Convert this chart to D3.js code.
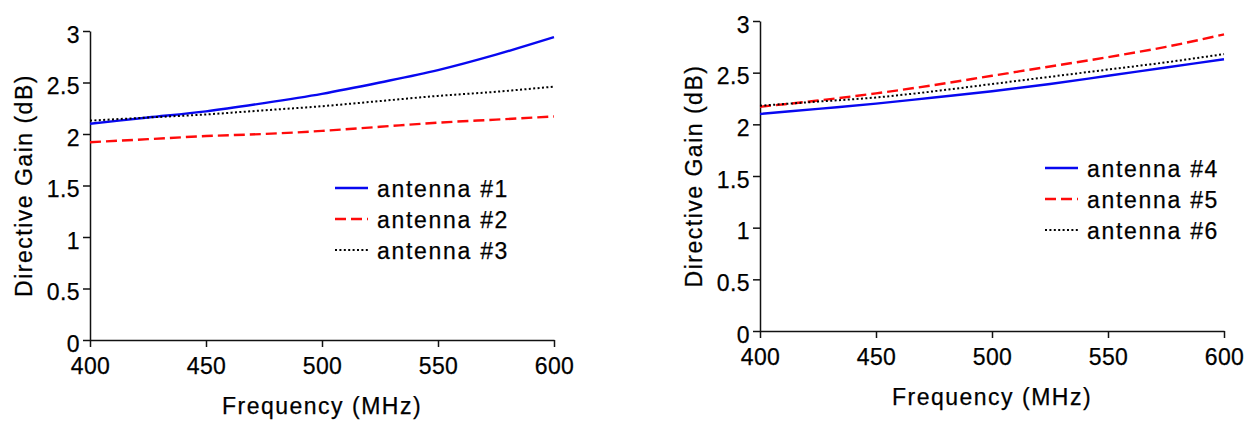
<!DOCTYPE html>
<html>
<head>
<meta charset="utf-8">
<script src="https://cdn.jsdelivr.net/npm/d3@7"></script>
<style>
    body { margin: 0; background: #fff; }
    svg text { font-family: "Liberation Sans", Arial, sans-serif; fill: #000; stroke: #000; stroke-width: 0.25px; }
</style>
</head>
<body>
<svg id="chart" width="1249" height="421"></svg>
<script>
// sampled frequencies (MHz)
var freqs = [400, 425, 450, 475, 500, 525, 550, 575, 600];

// left panel
var ant1 = [2.10, 2.16, 2.22, 2.30, 2.39, 2.50, 2.62, 2.77, 2.94];
var ant2 = [1.92, 1.95, 1.98, 2.00, 2.03, 2.07, 2.11, 2.14, 2.17];
var ant3 = [2.13, 2.16, 2.19, 2.23, 2.27, 2.32, 2.37, 2.41, 2.46];
// right panel
var ant4 = [2.10, 2.15, 2.20, 2.26, 2.32, 2.39, 2.47, 2.55, 2.63];
var ant5 = [2.17, 2.23, 2.30, 2.38, 2.47, 2.56, 2.65, 2.75, 2.87];
var ant6 = [2.18, 2.22, 2.26, 2.32, 2.39, 2.46, 2.53, 2.60, 2.68];

var xTicks = [400, 450, 500, 550, 600];
var yTicks = [0, 0.5, 1, 1.5, 2, 2.5, 3];

var svg = d3.select("#chart");

var styles = [
    { color: "#0808f0", dash: null, width: 2.4 },
    { color: "#ff0a0a", dash: "11,5", width: 2.4 },
    { color: "#000", dash: "2,2.4", width: 2 }
];

var drawPanel = function(opt) {
    var x = d3.scaleLinear().domain([400, 600]).range([opt.left, opt.right]);
    var y = d3.scaleLinear().domain([0, 3]).range([opt.bottom, opt.top]);
    var g = svg.append("g");

    // axes
    var xAxis = d3.axisBottom(x).tickValues(xTicks).tickSizeInner(7).tickSizeOuter(0).tickPadding(5);
    var yAxis = d3.axisLeft(y).tickValues(yTicks).tickFormat(d3.format("")).tickSizeInner(7).tickSizeOuter(0).tickPadding(3);

    var gx = g.append("g").attr("transform", "translate(0," + opt.bottom + ")").call(xAxis);
    var gy = g.append("g").attr("transform", "translate(" + opt.left + ",0)").call(yAxis);
    [gx, gy].forEach(function(a) {
        a.selectAll("path, line").attr("stroke", "#111").attr("stroke-width", 1.5);
        a.selectAll("text").attr("font-size", 23).attr("letter-spacing", 0.4)
            .style("font-family", "'Liberation Sans', Arial, sans-serif").attr("fill", "#000");
    });
    gy.selectAll("text").attr("dy", "0.48em");
    gx.selectAll("text").attr("dy", "0.95em");

    // axis titles
    g.append("text")
        .attr("x", (opt.left + opt.right) / 2)
        .attr("y", opt.bottom + 74)
        .attr("text-anchor", "middle")
        .attr("font-size", 23).attr("letter-spacing", 1.5)
        .text("Frequency (MHz)");
    g.append("text")
        .attr("transform", "translate(" + (opt.left - 58) + "," + ((opt.top + opt.bottom) / 2) + ") rotate(-90)")
        .attr("text-anchor", "middle")
        .attr("font-size", 23).attr("letter-spacing", 1.5)
        .text("Directive Gain (dB)");

    var line = d3.line()
        .x(function(d, i) { return x(freqs[i]); })
        .y(function(d) { return y(d); })
        .curve(d3.curveMonotoneX);

    opt.series.forEach(function(s, i) {
        var st = styles[i];
        g.append("path")
            .datum(s.values)
            .attr("d", line)
            .attr("fill", "none")
            .attr("stroke", st.color)
            .attr("stroke-width", st.width)
            .attr("stroke-dasharray", st.dash);

        // legend
        var ly = opt.legendY + i * 31;
        g.append("line")
            .attr("x1", opt.legendX).attr("x2", opt.legendX + 33)
            .attr("y1", ly).attr("y2", ly)
            .attr("stroke", st.color)
            .attr("stroke-width", st.width)
            .attr("stroke-dasharray", st.dash);
        g.append("text")
            .attr("x", opt.legendX + 42)
            .attr("y", ly + 9)
            .attr("font-size", 23).attr("letter-spacing", 1.7)
            .text(s.name);
    });
};

drawPanel({
    left: 90, right: 554, top: 31, bottom: 340,
    legendX: 335, legendY: 188,
    series: [
        { name: "antenna #1", values: ant1 },
        { name: "antenna #2", values: ant2 },
        { name: "antenna #3", values: ant3 }
    ]
});

drawPanel({
    left: 760, right: 1224, top: 21, bottom: 331,
    legendX: 1045, legendY: 168,
    series: [
        { name: "antenna #4", values: ant4 },
        { name: "antenna #5", values: ant5 },
        { name: "antenna #6", values: ant6 }
    ]
});
</script>
</body>
</html>
